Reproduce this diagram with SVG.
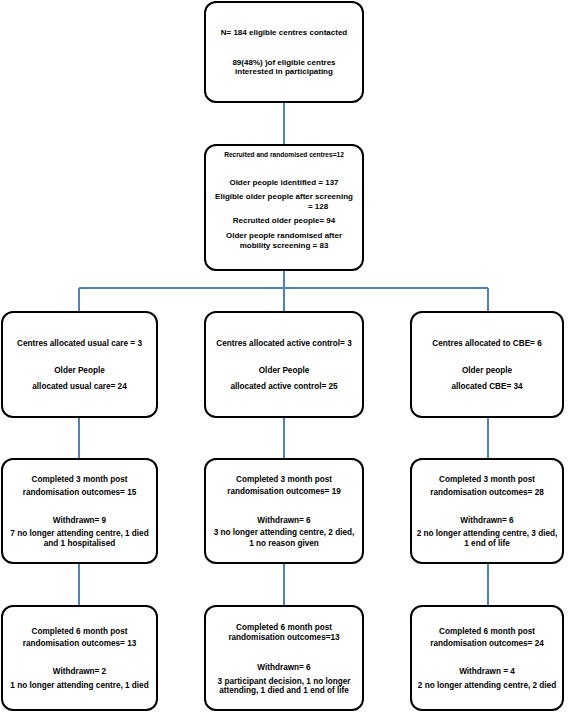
<svg xmlns="http://www.w3.org/2000/svg" width="569" height="712" viewBox="0 0 569 712">
<style>
.box{fill:#fff;stroke:#000;stroke-width:2}
.t{font-family:"Liberation Sans",Arial,sans-serif;font-weight:bold;font-size:8.2px;fill:#000;text-anchor:middle}
.t8{font-size:8px}
.ts{font-size:6.6px}
.c{stroke:#4f81bd;stroke-width:2;fill:none}
</style>
<rect width="569" height="712" fill="#fff"/>
<g id="connectors">
<line class="c" x1="284" y1="102" x2="284" y2="145"/>
<line class="c" x1="284" y1="270" x2="284" y2="312"/>
<line class="c" x1="79" y1="288" x2="488" y2="288"/>
<line class="c" x1="79" y1="288" x2="79" y2="312"/>
<line class="c" x1="488" y1="288" x2="488" y2="312"/>
<line class="c" x1="79" y1="417" x2="79" y2="459"/>
<line class="c" x1="284" y1="417" x2="284" y2="459"/>
<line class="c" x1="488" y1="417" x2="488" y2="459"/>
<line class="c" x1="79" y1="563" x2="79" y2="606"/>
<line class="c" x1="284" y1="563" x2="284" y2="606"/>
<line class="c" x1="488" y1="563" x2="488" y2="606"/>
</g>
<g id="contacted">
<rect class="box" x="205" y="2" width="158" height="100" rx="11"/>
<text class="t t8" x="284" y="35">N= 184 eligible centres contacted</text>
<text class="t t8" x="284" y="65">89(48%) )of eligible centres</text>
<text class="t t8" x="284" y="74">interested in participating</text>
</g>
<g id="recruited">
<rect class="box" x="205" y="145" width="158" height="125" rx="11"/>
<text class="t ts" x="284" y="157">Recruited and randomised centres=12</text>
<text class="t t8" x="284" y="185">Older people identified = 137</text>
<text class="t t8" x="284" y="199">Eligible older people after screening</text>
<text class="t t8" x="318" y="209">= 128</text>
<text class="t t8" x="284" y="223">Recruited older people= 94</text>
<text class="t t8" x="284" y="238">Older people randomised after</text>
<text class="t t8" x="284" y="248">mobility screening = 83</text>
</g>
<g id="alloc-usual">
<rect class="box" x="2" y="312" width="155" height="105" rx="11"/>
<text class="t" x="79.5" y="346">Centres allocated usual care = 3</text>
<text class="t" x="79.5" y="373">Older People</text>
<text class="t" x="79.5" y="389">allocated usual care= 24</text>
</g>
<g id="alloc-active">
<rect class="box" x="205" y="312" width="158" height="105" rx="11"/>
<text class="t" x="284" y="346">Centres allocated active control= 3</text>
<text class="t" x="284" y="373">Older People</text>
<text class="t" x="284" y="389">allocated active control= 25</text>
</g>
<g id="alloc-cbe">
<rect class="box" x="411" y="312" width="152" height="105" rx="11"/>
<text class="t" x="487" y="346">Centres allocated to CBE= 6</text>
<text class="t" x="487" y="373">Older people</text>
<text class="t" x="487" y="389">allocated CBE= 34</text>
</g>
<g id="m3-usual">
<rect class="box" x="2" y="459" width="155" height="104" rx="11"/>
<text class="t" x="79.5" y="482">Completed 3 month post</text>
<text class="t" x="79.5" y="495">randomisation outcomes= 15</text>
<text class="t" x="79.5" y="523">Withdrawn= 9</text>
<text class="t" x="79.5" y="536">7 no longer attending centre, 1 died</text>
<text class="t" x="79.5" y="546">and 1 hospitalised</text>
</g>
<g id="m3-active">
<rect class="box" x="205" y="459" width="158" height="104" rx="11"/>
<text class="t" x="284" y="482">Completed 3 month post</text>
<text class="t" x="284" y="494">randomisation outcomes=  19</text>
<text class="t" x="284" y="523">Withdrawn= 6</text>
<text class="t" x="284" y="535">3 no longer attending centre, 2 died,</text>
<text class="t" x="284" y="546">1 no reason given</text>
</g>
<g id="m3-cbe">
<rect class="box" x="411" y="459" width="152" height="104" rx="11"/>
<text class="t" x="487" y="482">Completed 3 month post</text>
<text class="t" x="487" y="495">randomisation outcomes= 28</text>
<text class="t" x="487" y="523">Withdrawn= 6</text>
<text class="t" x="487" y="536">2 no longer attending centre, 3 died,</text>
<text class="t" x="487" y="546">1 end of life</text>
</g>
<g id="m6-usual">
<rect class="box" x="2" y="606" width="155" height="104" rx="11"/>
<text class="t" x="79.5" y="634">Completed 6 month post</text>
<text class="t" x="79.5" y="646">randomisation outcomes= 13</text>
<text class="t" x="79.5" y="674">Withdrawn= 2</text>
<text class="t" x="79.5" y="688">1 no longer attending centre, 1 died</text>
</g>
<g id="m6-active">
<rect class="box" x="205" y="606" width="158" height="104" rx="11"/>
<text class="t" x="284" y="630">Completed 6 month post</text>
<text class="t" x="284" y="640">randomisation outcomes=13</text>
<text class="t" x="284" y="670">Withdrawn= 6</text>
<text class="t" x="284" y="684">3 participant decision, 1 no longer</text>
<text class="t" x="284" y="693">attending, 1 died and 1 end of life</text>
</g>
<g id="m6-cbe">
<rect class="box" x="411" y="606" width="152" height="104" rx="11"/>
<text class="t" x="487" y="634">Completed 6 month post</text>
<text class="t" x="487" y="646">randomisation outcomes= 24</text>
<text class="t" x="487" y="674">Withdrawn = 4</text>
<text class="t" x="487" y="688">2 no longer attending centre, 2 died</text>
</g>
</svg>
